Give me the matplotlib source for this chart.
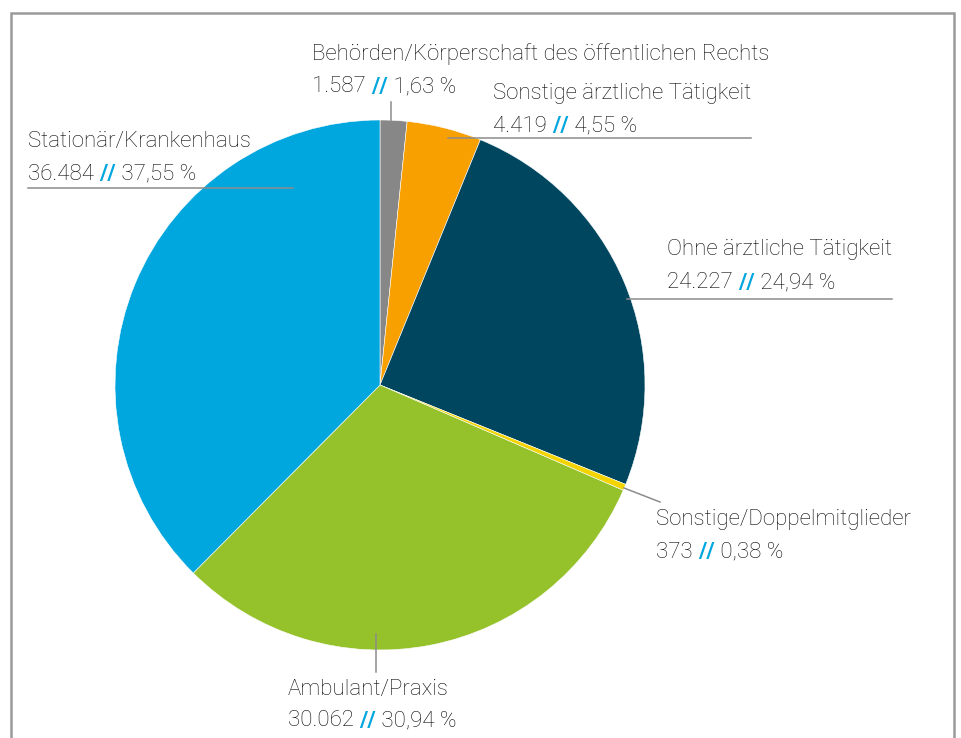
import matplotlib.pyplot as plt

# data (clockwise from top)
labels = ['Behörden/Körperschaft des öffentlichen Rechts', 'Sonstige ärztliche Tätigkeit',
          'Ohne ärztliche Tätigkeit', 'Sonstige/Doppelmitglieder', 'Ambulant/Praxis',
          'Stationär/Krankenhaus']
counts = [1587, 4419, 24227, 373, 30062, 36484]
count_labels = ['1.587', '4.419', '24.227', '373', '30.062', '36.484']
pct_labels = ['1,63 %', '4,55 %', '24,94 %', '0,38 %', '30,94 %', '37,55 %']
colors = ['#878787', '#F7A000', '#00465F', '#F3D400', '#95C12B', '#00A6DE']

W, H = 961, 738
plt.rcParams['font.family'] = ['Roboto', 'DejaVu Sans']

fig = plt.figure(figsize=(W / 100, H / 100), dpi=100)
ax = fig.add_axes([0, 0, 1, 1])


def py(y):
    # pixel row from top -> data y
    return H - y


# frame around the graphic
ax.plot([11, 11, 954, 954], [py(745), py(13), py(13), py(745)], color='#9a9a9a', lw=1.8,
        solid_joinstyle='miter')

ax.pie(counts, colors=colors, startangle=90, counterclock=False, center=(380, py(385)),
       radius=265, frame=True, wedgeprops=dict(edgecolor='white', linewidth=0.4))
ax.set_xlim(0, W)
ax.set_ylim(0, H)
ax.set_aspect('auto')
ax.axis('off')

# label positions (left x, centre of first line, centre of second line)
label_pos = [(312, 54, 87), (493, 94, 126), (667, 250, 283), (656, 519, 552),
             (288, 689, 721), (28, 142, 174)]

# leader lines
leaders = [([391, 391], [102, 121]), ([448, 751], [138, 138]), ([627, 892], [299, 299]),
           ([624, 660], [488, 502]), ([376, 376], [634, 672]), ([28, 293], [188, 188])]
for xs, ys in leaders:
    ax.plot(xs, [py(y) for y in ys], color='#8c8c8c', lw=1.1)

fs = 16
txt_color = '#0a0a0a'
renderer = fig.canvas.get_renderer()
for i, (x, y1, y2) in enumerate(label_pos):
    ax.text(x, py(y1), labels[i], fontsize=fs, color=txt_color, va='center', ha='left',
            fontweight='light')
    parts = [(count_labels[i] + ' ', txt_color, 'light'), ('//', '#00A6DE', 'bold'),
             (' ' + pct_labels[i], txt_color, 'light')]
    cx = x
    for s, c, w in parts:
        t = ax.text(cx, py(y2), s, fontsize=fs, color=c, va='center', ha='left', fontweight=w)
        bb = t.get_window_extent(renderer=renderer)
        cx += bb.width

plt.savefig('out.png', dpi=100)
